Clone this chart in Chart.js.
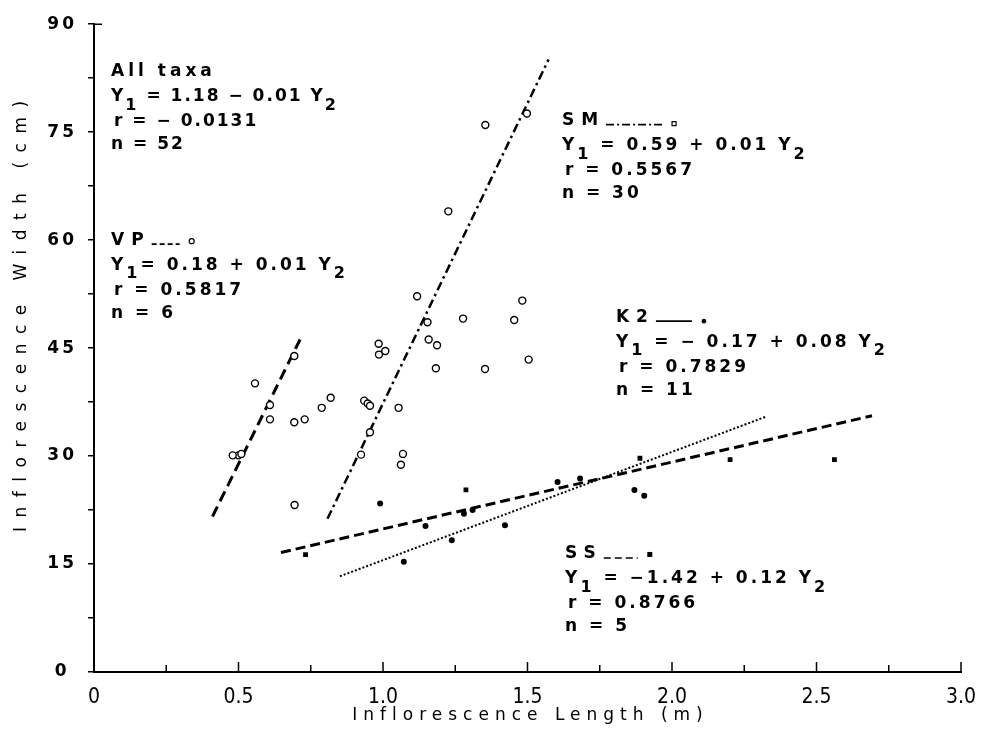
<!DOCTYPE html>
<html>
<head>
<meta charset="utf-8">
<script src="https://cdn.jsdelivr.net/npm/chart.js@4.4.1/dist/chart.umd.min.js"></script>
<style>
  html, body { margin: 0; padding: 0; background: #fff; }
  canvas { display: block; }
</style>
</head>
<body>
<canvas id="grafico" width="994" height="740"></canvas>
<script>
// comprimento (m) x largura (cm) da inflorescencia, um array por taxon
const pontosVP = [[0.48,30.1],[0.51,30.3],[0.557,40.1],[0.609,37.1],[0.609,35.1],[0.693,43.9]];
const pontosSM = [
  [0.50,30.1],[0.694,23.2],[0.693,34.7],[0.729,35.1],[0.788,36.7],[0.819,38.1],
  [0.935,37.7],[0.947,37.3],[0.955,37.0],[0.955,33.3],[0.924,30.2],[0.985,45.6],
  [0.986,44.1],[1.008,44.6],[1.054,36.7],[1.069,30.3],[1.062,28.8],[1.118,52.2],
  [1.154,48.6],[1.158,46.2],[1.187,45.4],[1.183,42.2],[1.226,64.0],[1.277,49.1],
  [1.353,42.1],[1.354,76.0],[1.454,48.9],[1.482,51.6],[1.498,77.6],[1.504,43.4]
];
const pontosK2 = [[0.990,23.4],[1.072,15.3],[1.147,20.3],[1.238,18.3],[1.28,22.0],[1.31,22.5],
  [1.422,20.4],[1.604,26.4],[1.682,26.9],[1.87,25.3],[1.904,24.5]];
const pontosSS = [[0.732,16.3],[1.287,25.3],[1.889,29.7],[2.201,29.5],[2.562,29.5]];

// retas de regressao (extremos)
const retaVP = [[0.41,21.6],[0.713,46.2]];
const retaSM = [[0.808,21.3],[1.573,85.1]];
const retaSS = [[0.647,16.6],[2.692,35.6]];
const retaK2 = [[0.851,13.3],[2.327,35.5]];

const rotulosX = ['0','0.5','1.0','1.5','2.0','2.5','3.0'];
const rotulosY = ['0','15','30','45','60','75','90'];

// textos das equacoes
const blocos = [
  { nome: 'All taxa', eq: ['Y', {s:'1'}, ' = 1.18 − 0.01 Y', {s:'2'}], r: 'r = − 0.0131', n: 'n = 52' },
  { nome: 'VP', eq: ['Y', {s:'1'}, '= 0.18 + 0.01 Y', {s:'2'}], r: 'r = 0.5817', n: 'n = 6' },
  { nome: 'SM', eq: ['Y', {s:'1'}, ' = 0.59 + 0.01 Y', {s:'2'}], r: 'r = 0.5567', n: 'n = 30' },
  { nome: 'K2', eq: ['Y', {s:'1'}, ' = − 0.17 + 0.08 Y', {s:'2'}], r: 'r = 0.7829', n: 'n = 11' },
  { nome: 'SS', eq: ['Y', {s:'1'}, ' = −1.42 + 0.12 Y', {s:'2'}], r: 'r = 0.8766', n: 'n = 5' }
];
// onde cada bloco fica (unidades dos eixos) e a amostra de linha do cabecalho
const posBlocos = [
  { x: 0.059, y: 83.4, esp: 2, amostra: null },
  { x: 0.059, y: 60.0, esp: 3, amostra: { dash: [5,3], len: 28, marca: 'aberto' } },
  { x: 1.619, y: 76.6, esp: 3, amostra: { dash: [8,3,2,3], len: 56, marca: 'quadrado' } },
  { x: 1.806, y: 49.3, esp: 3, amostra: { dash: [], len: 36, marca: 'ponto' } },
  { x: 1.630, y: 16.4, esp: 3, amostra: { dash: [7,4], len: 34, marca: 'cheio' } }
];

const xy = arr => arr.map(p => ({x: p[0], y: p[1]}));
const FONTE = '"DejaVu Sans", sans-serif';
const TEXTO = 'bold 17px ' + FONTE;

function textoRico(ctx, x, y, partes) {
  let cx = x;
  partes.forEach(p => {
    if (typeof p === 'string') {
      ctx.font = TEXTO;
      ctx.fillText(p, cx, y);
      cx += ctx.measureText(p).width;
    } else {
      ctx.font = 'bold 16px ' + FONTE;
      ctx.fillText(p.s, cx, y + 9);
      cx += ctx.measureText(p.s).width;
    }
  });
}

const extras = {
  id: 'extras',
  beforeDraw(chart) { chart.ctx.letterSpacing = '0px'; },
  afterDatasetsDraw(chart) { chart.ctx.letterSpacing = '3px'; },
  afterDraw(chart) {
    const ctx = chart.ctx;
    const sx = chart.scales.x, sy = chart.scales.y;
    const base = sy.getPixelForValue(0);
    ctx.save();
    ctx.strokeStyle = '#000';
    ctx.fillStyle = '#000';
    // tracinhos do eixo x para dentro
    ctx.lineWidth = 1.5;
    ctx.beginPath();
    sx.ticks.forEach(t => {
      if (t.value === 0) return;
      const px = sx.getPixelForValue(t.value);
      ctx.moveTo(px, base);
      ctx.lineTo(px, base - (t.label !== '' ? 10 : 7));
    });
    const topo = sy.getPixelForValue(90);
    ctx.moveTo(sx.left, topo);
    ctx.lineTo(sx.left + 8, topo);
    ctx.stroke();

    // titulos dos eixos
    ctx.textBaseline = 'middle';
    ctx.textAlign = 'center';
    ctx.font = '17px ' + FONTE;
    ctx.letterSpacing = '6px';
    ctx.fillText('Inflorescence Length (m)', (sx.left + sx.right) / 2 + 3, 716);
    ctx.save();
    ctx.translate(22, sy.getPixelForValue(49.5));
    ctx.rotate(-Math.PI / 2);
    ctx.font = '17px ' + FONTE;
    ctx.letterSpacing = '9.5px';
    ctx.fillText('Inflorescence Width (cm)', 4, 0);
    ctx.restore();

    // blocos de equacoes
    ctx.textAlign = 'left';
    blocos.forEach((b, i) => {
      const pos = posBlocos[i];
      const x0 = sx.getPixelForValue(pos.x);
      const y0 = sy.getPixelForValue(pos.y);
      ctx.font = TEXTO;
      ctx.letterSpacing = (pos.amostra ? 7 : 4) + 'px';
      ctx.fillText(b.nome, x0, y0);
      if (pos.amostra) {
        const a = pos.amostra;
        const w = ctx.measureText(b.nome).width;
        const lx = x0 + w + 1;
        ctx.setLineDash(a.dash);
        ctx.lineWidth = 1.6;
        ctx.beginPath();
        ctx.moveTo(lx, y0 + 4);
        ctx.lineTo(lx + a.len, y0 + 4);
        ctx.stroke();
        ctx.setLineDash([]);
        const mx = lx + a.len + 12;
        ctx.beginPath();
        if (a.marca === 'aberto') {
          ctx.lineWidth = 1.2;
          ctx.arc(mx, y0 + 1, 2.5, 0, Math.PI * 2);
          ctx.stroke();
        } else if (a.marca === 'quadrado') {
          ctx.lineWidth = 1.2;
          ctx.strokeRect(mx - 2, y0 + 1, 4, 4);
        } else if (a.marca === 'ponto') {
          ctx.arc(mx, y0 + 4, 2.3, 0, Math.PI * 2);
          ctx.fill();
        } else {
          ctx.fillRect(mx - 2.5, y0 - 2, 5, 5);
        }
      }
      ctx.letterSpacing = pos.esp + 'px';
      textoRico(ctx, x0, y0 + 25, b.eq);
      ctx.font = TEXTO;
      ctx.fillText(b.r, x0 + 3, y0 + 50);
      ctx.fillText(b.n, x0, y0 + 73);
    });
    ctx.restore();
  }
};

const aberto = { pointStyle: 'circle', pointRadius: 3.5, pointBorderWidth: 1.4,
  pointBackgroundColor: '#fff', pointBorderColor: '#000', showLine: false, order: 1 };
const reta = { pointRadius: 0, showLine: true, borderColor: '#000', fill: false, order: 2 };

const chart = new Chart(document.getElementById('grafico').getContext('2d'), {
  type: 'scatter',
  data: {
    datasets: [
      Object.assign({ label: 'VP', data: xy(pontosVP) }, aberto),
      Object.assign({ label: 'SM', data: xy(pontosSM) }, aberto),
      { label: 'K2', data: xy(pontosK2), pointStyle: 'circle', pointRadius: 3,
        pointBackgroundColor: '#000', pointBorderColor: '#000', pointBorderWidth: 0, order: 1 },
      { label: 'SS', data: xy(pontosSS), pointStyle: 'rect', pointRadius: 3.4,
        pointBackgroundColor: '#000', pointBorderColor: '#000', pointBorderWidth: 0, order: 1 },
      Object.assign({ label: 'VP reta', data: xy(retaVP), borderWidth: 3, borderDash: [11, 6] }, reta),
      Object.assign({ label: 'SM reta', data: xy(retaSM), borderWidth: 2.5, borderDash: [9, 4, 2.5, 4] }, reta),
      Object.assign({ label: 'SS reta', data: xy(retaSS), borderWidth: 3, borderDash: [10, 5] }, reta),
      Object.assign({ label: 'K2 reta', data: xy(retaK2), borderWidth: 2, borderDash: [2, 2] }, reta)
    ]
  },
  options: {
    responsive: false,
    animation: false,
    layout: { padding: { left: 0, right: 33, top: 20, bottom: 0 } },
    plugins: { legend: { display: false }, tooltip: { enabled: false } },
    scales: {
      x: {
        type: 'linear', min: 0, max: 3,
        afterFit: s => { s.height = 68; },
        grid: { display: false },
        border: { display: true, color: '#000', width: 2 },
        ticks: {
          stepSize: 0.25, autoSkip: false, maxRotation: 0, padding: 5, z: 0,
          color: '#000',
          font: { family: '"Liberation Sans Narrow", "DejaVu Sans Condensed", sans-serif', size: 21 },
          callback: v => {
            const k = Math.round(v * 2);
            return Math.abs(v * 2 - k) < 1e-6 ? rotulosX[k] : '';
          }
        }
      },
      y: {
        type: 'linear', min: 0, max: 90,
        afterFit: s => { s.width = 94; },
        grid: { display: true, drawOnChartArea: false, drawTicks: true, tickLength: 6,
          color: '#000', lineWidth: 1.5 },
        border: { display: true, color: '#000', width: 2 },
        ticks: {
          stepSize: 7.5, autoSkip: false, padding: 14, crossAlign: 'center', z: 1,
          color: '#000', font: { family: FONTE, size: 17, weight: 'bold' },
          callback: v => {
            const k = Math.round(v / 15);
            return Math.abs(v / 15 - k) < 1e-6 ? rotulosY[k] : '';
          }
        }
      }
    }
  },
  plugins: [extras]
});
</script>
</body>
</html>
